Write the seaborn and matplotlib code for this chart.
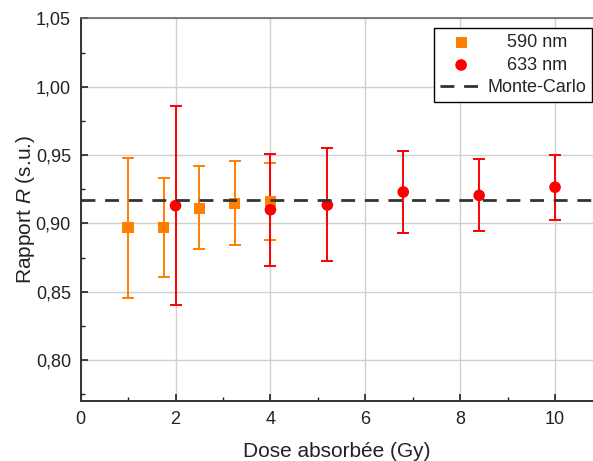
import matplotlib
matplotlib.use('Agg')
import matplotlib.pyplot as plt
import numpy as np
import pandas as pd
import seaborn as sns
from matplotlib.ticker import MultipleLocator, FuncFormatter

# data
dose_590 = [1.0, 1.75, 2.5, 3.25, 4.0]
ratio_590 = [0.897, 0.897, 0.911, 0.9145, 0.916]
low_590 = [0.8455, 0.861, 0.881, 0.884, 0.888]
high_590 = [0.948, 0.9335, 0.942, 0.9455, 0.944]

dose_633 = [2.0, 4.0, 5.2, 6.8, 8.4, 10.0]
ratio_633 = [0.913, 0.910, 0.9135, 0.923, 0.9205, 0.9265]
low_633 = [0.8405, 0.869, 0.8725, 0.893, 0.8945, 0.9025]
high_633 = [0.986, 0.951, 0.955, 0.953, 0.947, 0.950]

monte_carlo = 0.9175

df590 = pd.DataFrame({'dose': dose_590, 'R': ratio_590})
df633 = pd.DataFrame({'dose': dose_633, 'R': ratio_633})

sns.set_style('white')
plt.rcParams['font.family'] = ['Liberation Sans', 'DejaVu Sans']
plt.rcParams['mathtext.fontset'] = 'custom'
plt.rcParams['mathtext.it'] = 'Liberation Sans:italic'
plt.rcParams['mathtext.rm'] = 'Liberation Sans'

fig = plt.figure(figsize=(5.93, 4.61), dpi=100)
ax = fig.add_axes([0.136, 0.130, 0.864, 0.830])

orange = '#FF8000'
red = '#FF0000'

ax.grid(True, color='#d0d0d0', linewidth=1.0)
ax.set_axisbelow(True)

# error bars
ax.errorbar(dose_590, ratio_590,
            yerr=[np.array(ratio_590) - np.array(low_590), np.array(high_590) - np.array(ratio_590)],
            fmt='none', ecolor=orange, elinewidth=1.4, capsize=4, capthick=1.4, zorder=2)
ax.errorbar(dose_633, ratio_633,
            yerr=[np.array(ratio_633) - np.array(low_633), np.array(high_633) - np.array(ratio_633)],
            fmt='none', ecolor=red, elinewidth=1.4, capsize=4, capthick=1.4, zorder=3)

sns.scatterplot(data=df590, x='dose', y='R', ax=ax, marker='s', s=65, color=orange,
                edgecolor='none', label='    590 nm', zorder=4)
sns.scatterplot(data=df633, x='dose', y='R', ax=ax, marker='o', s=70, color=red,
                edgecolor='none', label='    633 nm', zorder=5)
ax.axhline(monte_carlo, color='#333333', linestyle=(0, (5, 3.5)), linewidth=2.0,
           label='Monte-Carlo', zorder=6)

ax.set_xlim(0, 10.8)
ax.set_ylim(0.77, 1.05)
ax.xaxis.set_major_locator(MultipleLocator(2))
ax.xaxis.set_minor_locator(MultipleLocator(1))
ax.yaxis.set_major_locator(MultipleLocator(0.05))
ax.yaxis.set_minor_locator(MultipleLocator(0.025))
ax.yaxis.set_major_formatter(FuncFormatter(lambda v, p: f'{v:.2f}'.replace('.', ',')))
ax.tick_params(which='both', left=True, bottom=True, top=False, right=False)
ax.tick_params(which='major', direction='in', length=5, width=1.2, colors='#222222',
               labelsize=13, labelcolor='#222222', pad=7)
ax.tick_params(which='minor', direction='in', length=3, width=1.0, colors='#222222')

for side in ['left', 'bottom']:
    ax.spines[side].set_color('#333333')
    ax.spines[side].set_linewidth(1.4)
ax.spines['top'].set_color('#666666')
ax.spines['top'].set_linewidth(1.2)
ax.spines['right'].set_visible(False)

ax.set_xlabel('Dose absorbée (Gy)', fontsize=15, color='#222222', labelpad=10)
ax.set_ylabel('Rapport $\\mathit{R}$ (s.u.)', fontsize=15, color='#222222', labelpad=-1)

leg = ax.legend(loc='upper right', bbox_to_anchor=(0.999, 0.975), fontsize=13,
                frameon=True, fancybox=False, edgecolor='black', framealpha=1,
                handlelength=2.3, borderpad=0.35, labelspacing=0.3, handletextpad=0.3,
                borderaxespad=0)
leg.get_frame().set_linewidth(1.0)

fig.savefig('out.png', dpi=100)
